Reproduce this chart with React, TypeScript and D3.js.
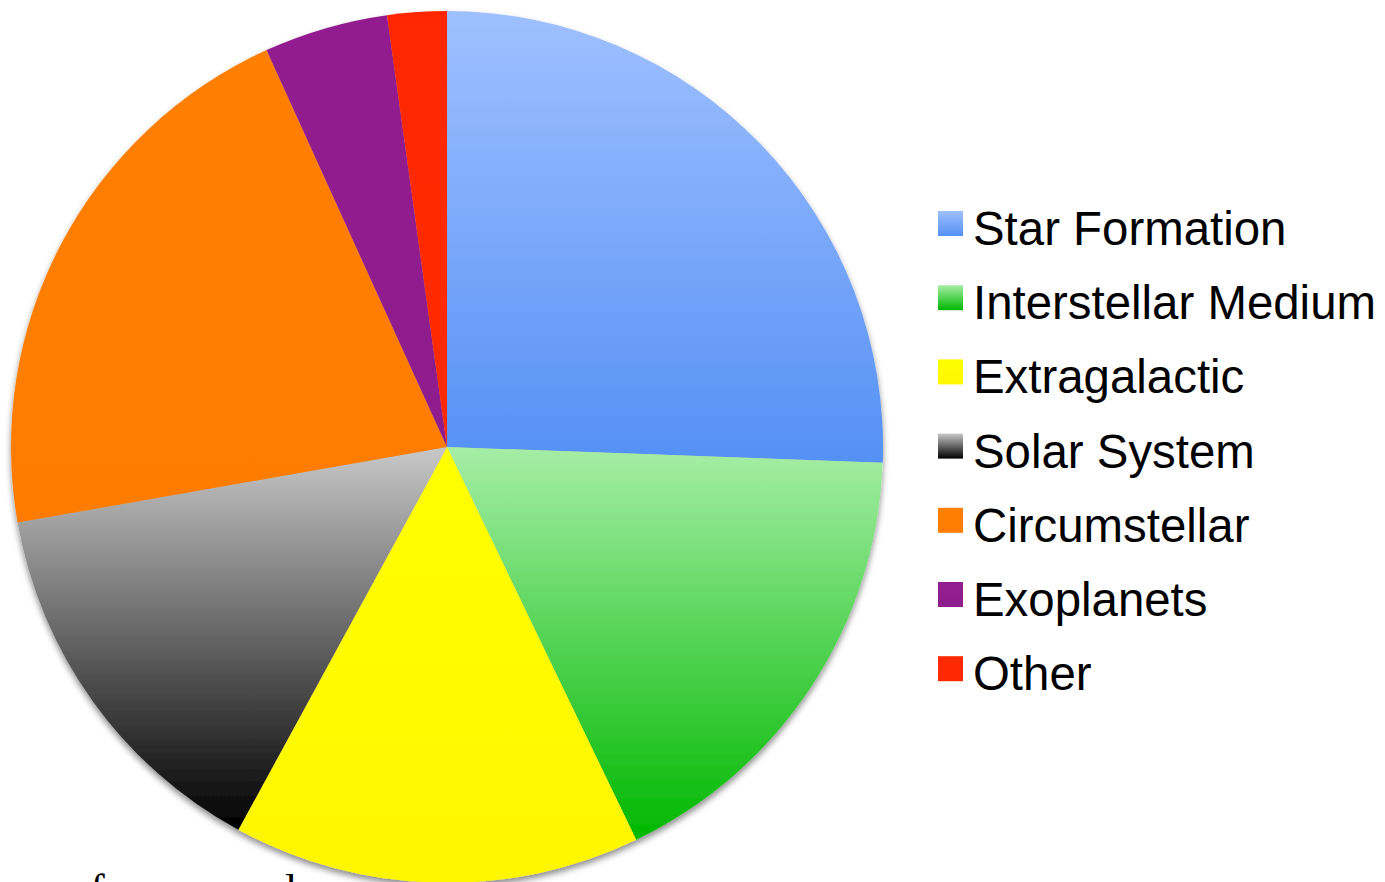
import React, { useEffect, useRef } from "react";
import * as d3 from "d3";

const categories = [
  "Star Formation",
  "Interstellar Medium",
  "Extragalactic",
  "Solar System",
  "Circumstellar",
  "Exoplanets",
  "Other",
];
const shares = [25.6, 17.3, 15.1, 14.3, 21.0, 4.6, 2.2];
const topColors = ["#9fc0ff", "#a6eea6", "#ffff00", "#c8c8c8", "#ff7f00", "#921f8f", "#ff2800"];
const bottomColors = ["#5590f5", "#00b800", "#fff600", "#000000", "#ff7c00", "#8e1d8c", "#ff2a00"];

const W = 1385;
const H = 882;

function PieChart() {
  const ref = useRef<SVGSVGElement>(null);

  useEffect(() => {
    const svg = d3.select(ref.current);
    svg.selectAll("*").remove();

    const cx = 447;
    const cy = 447;
    const radius = 436;

    const defs = svg.append("defs");
    // vertical gradient per slice (light top -> darker bottom)
    categories.forEach((c, i) => {
      const g = defs
        .append("linearGradient")
        .attr("id", "grad" + i)
        .attr("x1", 0)
        .attr("y1", 0)
        .attr("x2", 0)
        .attr("y2", 1);
      g.append("stop").attr("offset", "0%").attr("stop-color", topColors[i]);
      g.append("stop").attr("offset", "100%").attr("stop-color", bottomColors[i]);
    });

    const shadow = defs
      .append("filter")
      .attr("id", "shadow")
      .attr("x", "-10%")
      .attr("y", "-10%")
      .attr("width", "120%")
      .attr("height", "120%");
    shadow
      .append("feDropShadow")
      .attr("dx", 0)
      .attr("dy", 4)
      .attr("stdDeviation", 3)
      .attr("flood-color", "#000")
      .attr("flood-opacity", 0.45);

    const pie = d3
      .pie<number>()
      .sort(null)
      .value((d) => d);
    const arcs = pie(shares);
    const arc = d3.arc<d3.PieArcDatum<number>>().innerRadius(0).outerRadius(radius);

    const g = svg
      .append("g")
      .attr("transform", `translate(${cx},${cy})`)
      .attr("filter", "url(#shadow)");

    g.selectAll("path")
      .data(arcs)
      .enter()
      .append("path")
      .attr("d", arc as any)
      .attr("fill", (d) => `url(#grad${d.index})`);

    // legend
    const legend = svg.append("g").attr("transform", "translate(938,211)");
    const row = 74.2;
    const items = legend
      .selectAll("g")
      .data(categories)
      .enter()
      .append("g")
      .attr("transform", (d, i) => `translate(0,${i * row})`);
    items
      .append("rect")
      .attr("width", 25)
      .attr("height", 25)
      .attr("fill", (d, i) => `url(#grad${i})`);
    items
      .append("text")
      .attr("x", 35)
      .attr("y", 34)
      .text((d) => d)
      .style("font-family", "Liberation Sans, Arial, sans-serif")
      .style("font-size", "47.4px")
      .style("fill", "#000");

    // text below the chart, cut by the picture's bottom edge as in the original
    svg
      .append("text")
      .attr("x", 90)
      .attr("y", 905)
      .text("f")
      .style("font-family", "Liberation Serif, Times New Roman, serif")
      .style("font-size", "44px")
      .style("fill", "#000");
    svg
      .append("text")
      .attr("x", 285)
      .attr("y", 905)
      .text("l")
      .style("font-family", "Liberation Serif, Times New Roman, serif")
      .style("font-size", "44px")
      .style("fill", "#000");
  }, []);

  return <svg ref={ref} width={W} height={H} style={{ display: "block" }} />;
}

export default function App() {
  return (
    <div style={{ position: "fixed", left: 0, top: 0, width: W, height: H, background: "#fff", overflow: "hidden" }}>
      <PieChart />
    </div>
  );
}
